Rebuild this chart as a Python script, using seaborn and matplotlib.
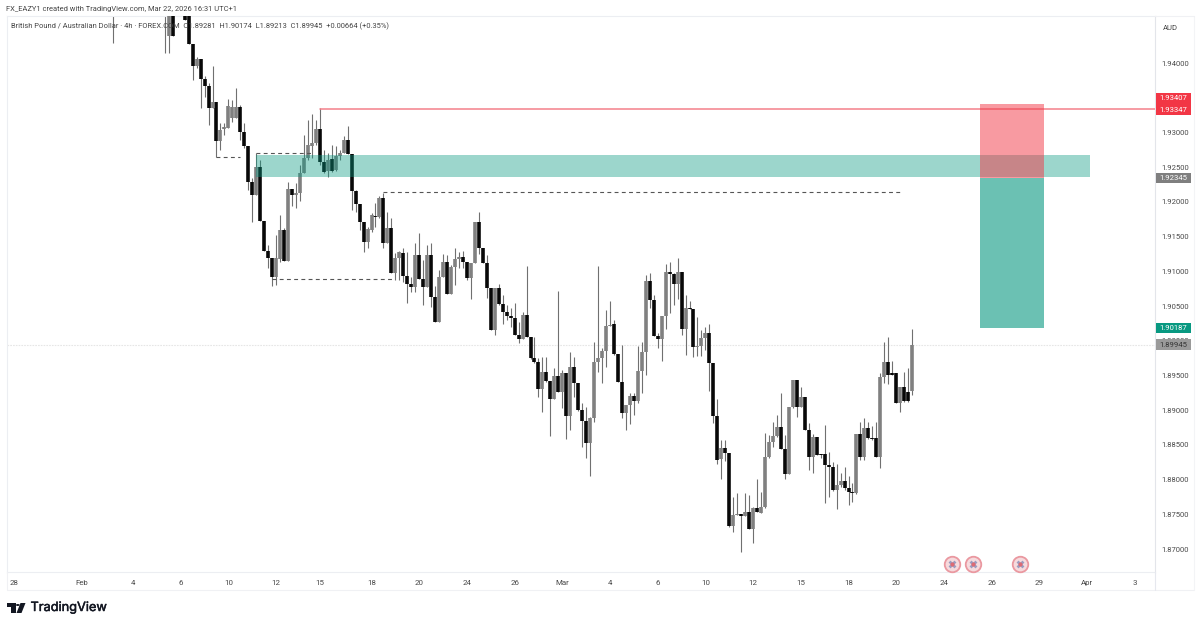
import numpy as np
import pandas as pd
import matplotlib
matplotlib.use('Agg')
import matplotlib.pyplot as plt
import matplotlib.patheffects as pe
from matplotlib.patches import Rectangle, Polygon, Circle
from matplotlib.transforms import blended_transform_factory
import seaborn as sns

nan = float('nan')

# GBP/AUD 4h candles (nan = hidden behind the top edge)
opens = [1.9475] + [nan] * 12 + [1.9475, 1.9439, 1.9470, nan, nan, 1.9468, 1.9470,
    1.9427, 1.9396, 1.9406, 1.9377, 1.9367, 1.9335, 1.9344, 1.9288, 1.9305, 1.9306,
    1.9321, 1.9321, 1.9337, 1.9301, 1.9280, 1.9229, 1.9210, 1.9250, 1.9173, 1.9129,
    1.9119, 1.9092, 1.9118, 1.9159, 1.9115, 1.9218, 1.9210, 1.9213, 1.9242, 1.9263,
    1.9280, 1.9285, 1.9305, 1.9257, 1.9244, 1.9262, 1.9246, 1.9266, 1.9270, 1.9289,
    1.9269, 1.9216, 1.9197, 1.9171, 1.9142, 1.9160, 1.9180, 1.9178, 1.9206, 1.9141,
    1.9162, 1.9097, 1.9119, 1.9126, 1.9093, 1.9082, 1.9077, 1.9123, 1.9089, 1.9077,
    1.9123, 1.9063, 1.9027, 1.9092, 1.9113, 1.9067, 1.9106, 1.9118, 1.9121, 1.9113,
    1.9090, 1.9112, 1.9171, 1.9134, 1.9112, 1.9076, 1.9016, 1.9076, 1.9053, 1.9041,
    1.9036, 1.9033, 1.9008, 1.9003, 1.9037, 1.9005, 1.8975, 1.8969, 1.8930, 1.8955,
    1.8942, 1.8916, 1.8949, 1.8926, 1.8954, 1.8892, 1.8962, 1.8939, 1.8900, 1.8884,
    1.8853, 1.8889, 1.8969, 1.8975, 1.8985, 1.9021, 1.9024, 1.8981, 1.8941, 1.8896,
    1.8907, 1.8920, 1.8913, 1.8956, 1.8984, 1.9086, 1.9059, 1.9007, 1.9003, 1.9036,
    1.9099, 1.9096, 1.9082, 1.9099, 1.9017, 1.9047, 1.9046, 1.8991, 1.8992, 1.9004,
    1.9011, 1.8968, 1.8892, 1.8830, 1.8846, 1.8838, 1.8733, 1.8749, 1.8750, 1.8748,
    1.8753, 1.8729, 1.8759, 1.8752, 1.8760, 1.8833, 1.8854, 1.8863, 1.8876, 1.8844,
    1.8808, 1.8905, 1.8944, 1.8905, 1.8919, 1.8871, 1.8833, 1.8861, 1.8837, 1.8837,
    1.8821, 1.8818, 1.8785, 1.8792, 1.8798, 1.8788, 1.8782, 1.8781, 1.8866, 1.8833,
    1.8874, 1.8860, 1.8860, 1.8833, 1.8948, 1.8969, 1.8954, 1.8954, 1.8910, 1.8933,
    1.8926, 1.89281]

closes = [1.9472] + [nan] * 12 + [1.9478, 1.9470, 1.9439, nan, nan, 1.9462, 1.9427,
    1.9396, 1.9406, 1.9377, 1.9367, 1.9335, 1.9344, 1.9288, 1.9304, 1.9308, 1.9338,
    1.9337, 1.9337, 1.9301, 1.9280, 1.9229, 1.9210, 1.9250, 1.9173, 1.9129, 1.9119,
    1.9092, 1.9119, 1.9159, 1.9115, 1.9218, 1.9210, 1.9213, 1.9242, 1.9263, 1.9282,
    1.9285, 1.9305, 1.9257, 1.9243, 1.9260, 1.9244, 1.9266, 1.9270, 1.9289, 1.9269,
    1.9216, 1.9197, 1.9171, 1.9142, 1.9161, 1.9181, 1.9178, 1.9206, 1.9141, 1.9162,
    1.9097, 1.9119, 1.9128, 1.9093, 1.9082, 1.9077, 1.9123, 1.9089, 1.9077, 1.9123,
    1.9063, 1.9027, 1.9092, 1.9113, 1.9067, 1.9106, 1.9118, 1.9121, 1.9113, 1.9090,
    1.9112, 1.9171, 1.9134, 1.9112, 1.9076, 1.9016, 1.9076, 1.9053, 1.9041, 1.9036,
    1.9033, 1.9008, 1.9003, 1.9037, 1.9005, 1.8975, 1.8969, 1.8930, 1.8955, 1.8942,
    1.8916, 1.8949, 1.8926, 1.8954, 1.8892, 1.8962, 1.8939, 1.8900, 1.8884, 1.8853,
    1.8889, 1.8969, 1.8975, 1.8985, 1.9021, 1.9023, 1.8981, 1.8941, 1.8896, 1.8907,
    1.8920, 1.8913, 1.8956, 1.8984, 1.9086, 1.9059, 1.9007, 1.9003, 1.9036, 1.9099,
    1.9096, 1.9082, 1.9099, 1.9017, 1.9047, 1.9046, 1.8991, 1.8992, 1.9004, 1.9011,
    1.8968, 1.8892, 1.8828, 1.8846, 1.8838, 1.8733, 1.8749, 1.8750, 1.8748, 1.8753,
    1.8729, 1.8759, 1.8753, 1.8760, 1.8833, 1.8854, 1.8863, 1.8876, 1.8844, 1.8808,
    1.8905, 1.8944, 1.8905, 1.8919, 1.8871, 1.8833, 1.8861, 1.8835, 1.8835, 1.8821,
    1.8818, 1.8785, 1.8792, 1.8798, 1.8788, 1.8782, 1.8781, 1.8866, 1.8833, 1.8874,
    1.8860, 1.8859, 1.8833, 1.8948, 1.8969, 1.8951, 1.8951, 1.8910, 1.8933, 1.8913,
    1.8913, 1.89945]

highs = [1.9480] + [nan] * 12 + [1.9480, 1.9480, 1.9480, nan, nan, 1.9470, 1.9475,
    1.9427, 1.9409, 1.9406, 1.9381, 1.9371, 1.9396, 1.9344, 1.9314, 1.9314, 1.9348,
    1.9347, 1.9364, 1.9339, 1.9314, 1.9280, 1.9234, 1.9270, 1.9260, 1.9173, 1.9138,
    1.9119, 1.9152, 1.9181, 1.9162, 1.9229, 1.9218, 1.9227, 1.9253, 1.9296, 1.9318,
    1.9327, 1.9318, 1.9335, 1.9275, 1.9270, 1.9282, 1.9280, 1.9275, 1.9295, 1.9309,
    1.9269, 1.9217, 1.9197, 1.9171, 1.9164, 1.9184, 1.9198, 1.9208, 1.9213, 1.9185,
    1.9177, 1.9126, 1.9129, 1.9134, 1.9128, 1.9092, 1.9141, 1.9155, 1.9116, 1.9138,
    1.9141, 1.9079, 1.9102, 1.9125, 1.9123, 1.9109, 1.9134, 1.9128, 1.9129, 1.9113,
    1.9112, 1.9171, 1.9185, 1.9134, 1.9123, 1.9076, 1.9076, 1.9082, 1.9066, 1.9051,
    1.9047, 1.9054, 1.9027, 1.9041, 1.9108, 1.9005, 1.9005, 1.8975, 1.8977, 1.8977,
    1.8942, 1.8961, 1.9072, 1.8958, 1.8954, 1.8984, 1.8977, 1.8939, 1.8910, 1.8905,
    1.8890, 1.8998, 1.9108, 1.8990, 1.9044, 1.9057, 1.9030, 1.8981, 1.8994, 1.8907,
    1.8925, 1.8925, 1.8992, 1.8998, 1.9095, 1.9098, 1.9066, 1.9011, 1.9036, 1.9110,
    1.9113, 1.9098, 1.9119, 1.9099, 1.9066, 1.9057, 1.9046, 1.9034, 1.9015, 1.9020,
    1.9024, 1.8968, 1.8916, 1.8857, 1.8857, 1.8838, 1.8775, 1.8781, 1.8750, 1.8781,
    1.8778, 1.8760, 1.8801, 1.8782, 1.8867, 1.8864, 1.8883, 1.8893, 1.8925, 1.8864,
    1.8905, 1.8944, 1.8944, 1.8933, 1.8919, 1.8882, 1.8866, 1.8861, 1.8837, 1.8879,
    1.8840, 1.8825, 1.8822, 1.8809, 1.8818, 1.8805, 1.8795, 1.8866, 1.8883, 1.8889,
    1.8883, 1.8877, 1.8883, 1.8954, 1.8998, 1.9005, 1.8971, 1.8954, 1.8933, 1.8955,
    1.8961, 1.90174]

lows = [1.9429] + [nan] * 12 + [1.9414, 1.9414, 1.9439, nan, nan, 1.9462, 1.9427,
    1.9375, 1.9393, 1.9335, 1.9351, 1.9311, 1.9335, 1.9265, 1.9275, 1.9296, 1.9306,
    1.9315, 1.9321, 1.9289, 1.9278, 1.9217, 1.9171, 1.9210, 1.9173, 1.9129, 1.9105,
    1.9079, 1.9080, 1.9113, 1.9115, 1.9115, 1.9194, 1.9191, 1.9201, 1.9242, 1.9260,
    1.9263, 1.9282, 1.9253, 1.9242, 1.9236, 1.9243, 1.9244, 1.9260, 1.9270, 1.9269,
    1.9188, 1.9185, 1.9160, 1.9128, 1.9134, 1.9157, 1.9164, 1.9177, 1.9134, 1.9141,
    1.9097, 1.9087, 1.9087, 1.9085, 1.9054, 1.9070, 1.9070, 1.9089, 1.9051, 1.9077,
    1.9049, 1.9027, 1.9027, 1.9092, 1.9067, 1.9067, 1.9080, 1.9105, 1.9105, 1.9087,
    1.9060, 1.9112, 1.9125, 1.9112, 1.9062, 1.9016, 1.9008, 1.9051, 1.9024, 1.9030,
    1.9020, 1.9008, 1.8997, 1.9003, 1.9005, 1.8974, 1.8968, 1.8919, 1.8897, 1.8941,
    1.8863, 1.8916, 1.8926, 1.8903, 1.8859, 1.8871, 1.8919, 1.8899, 1.8847, 1.8831,
    1.8805, 1.8883, 1.8955, 1.8939, 1.8962, 1.9021, 1.8979, 1.8941, 1.8889, 1.8871,
    1.8880, 1.8893, 1.8910, 1.8925, 1.8951, 1.9047, 1.9007, 1.8990, 1.8971, 1.9017,
    1.9040, 1.9051, 1.9060, 1.9008, 1.8979, 1.9046, 1.8977, 1.8978, 1.8978, 1.8987,
    1.8928, 1.8882, 1.8822, 1.8801, 1.8827, 1.8732, 1.8725, 1.8749, 1.8696, 1.8748,
    1.8729, 1.8709, 1.8753, 1.8752, 1.8759, 1.8831, 1.8847, 1.8861, 1.8844, 1.8801,
    1.8808, 1.8903, 1.8890, 1.8905, 1.8871, 1.8814, 1.8810, 1.8835, 1.8831, 1.8766,
    1.8775, 1.8784, 1.8758, 1.8789, 1.8785, 1.8763, 1.8768, 1.8779, 1.8828, 1.8828,
    1.8859, 1.8857, 1.8833, 1.8817, 1.8939, 1.8938, 1.8951, 1.8910, 1.8897, 1.8912,
    1.8912, 1.89213]

# axis labels
date_pos = [-25, -8, 5, 17, 29, 41, 52, 65, 77, 89, 101, 113, 125, 137, 149, 161, 173, 185, 197, 209, 221, 233, 245, 257]
date_labels = ['28', 'Feb', '4', '6', '10', '12', '15', '18', '20', '24', '26', 'Mar', '4', '6', '10', '12', '15', '18', '20', '24', '26', '29', 'Apr', '3']
price_ticks = [1.87, 1.875, 1.88, 1.885, 1.89, 1.895, 1.90, 1.905, 1.91, 1.915, 1.92, 1.925, 1.93, 1.94]

# drawings
zone_price = [1.92358, 1.92675]
zone_bars = [36, 245.8]
position_bars = [218.1, 234.2]
stop_price = 1.93407
entry_price = 1.92345
target_price = 1.90187
last_price = 1.89945
high_line_price = 1.93335
high_line_bar = 52
dashed_prices = [1.92646, 1.92697, 1.90885, 1.92142]
dashed_starts = [26, 36, 40, 68]
dashed_ends = [32, 50, 70.5, 198.5]
event_bars = [211, 216.2, 228.2]
event_price = 1.86784

df = pd.DataFrame({'bar': np.arange(len(opens)), 'open': opens, 'high': highs, 'low': lows, 'close': closes}).dropna()
df['dir'] = np.where(df['close'] > df['open'], 'up', 'down')

wicks = df.melt(id_vars=['bar'], value_vars=['high', 'low'], value_name='price')
bodies = df.melt(id_vars=['bar', 'dir'], value_vars=['open', 'close'], value_name='price')

sns.set_theme(style='white')
plt.rcParams['font.family'] = ['Roboto', 'DejaVu Sans']

W, H = 1200, 627
TXT = 5.5
fig = plt.figure(figsize=(12, 6.27), dpi=100, facecolor='white')
ax = fig.add_axes([7 / W, 1 - 572 / H, 1148 / W, 556 / H])

sns.lineplot(data=wicks, x='bar', y='price', units='bar', estimator=None, sort=False,
             color='#707070', linewidth=0.8, legend=False, ax=ax, zorder=2,
             solid_capstyle='butt')
sns.lineplot(data=bodies, x='bar', y='price', units='bar', hue='dir', estimator=None, sort=False,
             palette={'up': '#808080', 'down': '#080808'}, linewidth=2.6, legend=False, ax=ax, zorder=3,
             solid_capstyle='butt')

ax.set_xlim(-26.7, 262.1)
ax.set_ylim(1.86669, 1.94677)
ax.set_xlabel('')
ax.set_ylabel('')

# last price line, dashed swing lines
ax.axhline(last_price, color='#e6e6e6', lw=0.8, dashes=(1.5, 1), zorder=1)
for p, a, b in zip(dashed_prices, dashed_starts, dashed_ends):
    ax.plot([a, b], [p, p], color='#555555', lw=0.8, dashes=(3.5, 3), zorder=4)
ax.plot([high_line_bar, ax.get_xlim()[1]], [high_line_price] * 2, color='#f4808a', lw=1.1, zorder=4)

# demand/supply box and the short position
ax.add_patch(Rectangle((zone_bars[0], zone_price[0]), zone_bars[1] - zone_bars[0], zone_price[1] - zone_price[0],
                       color='#089981', alpha=0.4, lw=0, zorder=5))
pw = position_bars[1] - position_bars[0]
ax.add_patch(Rectangle((position_bars[0], entry_price), pw, stop_price - entry_price,
                       color='#f23645', alpha=0.5, lw=0, zorder=6))
ax.add_patch(Rectangle((position_bars[0], target_price), pw, entry_price - target_price,
                       color='#089981', alpha=0.6, lw=0, zorder=6))

# calendar icons
sns.scatterplot(x=event_bars, y=[event_price] * 3, s=125, color='#f6dadd', edgecolor='#ea98a0', linewidth=1.3, ax=ax, zorder=7, legend=False, clip_on=False)
sns.scatterplot(x=event_bars, y=[event_price] * 3, s=32, marker='X', color='#9a9dc0', linewidth=0, ax=ax, zorder=8, legend=False)
sns.scatterplot(x=event_bars, y=[event_price] * 3, s=9, color='#dd6a74', linewidth=0, ax=ax, zorder=9, legend=False)

# axes look
for side in ['top', 'left', 'bottom', 'right']:
    ax.spines[side].set_color('#eceef2')
    ax.spines[side].set_linewidth(0.8)
ax.spines['right'].set_color('#e3e5ea')
ax.yaxis.tick_right()
ax.set_yticks(price_ticks)
ax.set_yticklabels(['%.5f' % t for t in price_ticks], fontsize=TXT, color='#4a4a4a')
ax.set_xticks(date_pos)
ax.set_xticklabels(date_labels, fontsize=TXT + 0.2, color='#4a4a4a')
ax.tick_params(axis='y', length=0, pad=4.5)
ax.tick_params(axis='x', length=0, pad=6)

# price labels on the scale
tr = blended_transform_factory(ax.transAxes, ax.transData)
box_x = 1.0006
box_w = 35 / 1148
label_cx = 1 + 18 / 1148
box_tops = [1.93568, 1.92417, 1.90259, 1.90024]
box_bottoms = [1.93251, 1.92273, 1.90108, 1.89866]
box_colors = ['#f23645', '#7f7f7f', '#089981', '#9a9a9a']
for y1, y0, c in zip(box_tops, box_bottoms, box_colors):
    ax.add_patch(Rectangle((box_x, y0), box_w, y1 - y0, transform=tr, color=c, lw=0, clip_on=False, zorder=10))
label_prices = [1.93489, 1.93330, 1.92345, 1.90187]
label_texts = ['1.93407', '1.93347', '1.92345', '1.90187']
for p, t in zip(label_prices, label_texts):
    ax.text(label_cx, p, t, transform=tr, color='white', fontsize=TXT, ha='center', va='center', zorder=11)
ax.text(label_cx, 1.89945, '1.89945', transform=tr, color='#333333', fontsize=TXT, ha='center', va='center', zorder=11)

# frame of the scale and the date strip
fig.add_artist(plt.Line2D([7 / W, 1194 / W], [1 - 590 / H] * 2, color='#f0f1f4', lw=0.8))
fig.add_artist(plt.Line2D([1194 / W] * 2, [1 - 16 / H, 1 - 590 / H], color='#f3f4f6', lw=0.8))
fig.add_artist(plt.Line2D([7 / W] * 2, [1 - 572 / H, 1 - 590 / H], color='#f0f1f4', lw=0.8))
fig.add_artist(plt.Line2D([1155 / W] * 2, [1 - 572 / H, 1 - 590 / H], color='#e6e8ee', lw=0.8))
fig.add_artist(plt.Line2D([1155 / W, 1194 / W], [1 - 16 / H] * 2, color='#f0f1f4', lw=0.8))

# header texts
fig.text(6 / W, 1 - 9 / H, 'FX_EAZY1 created with TradingView.com, Mar 22, 2026 16:31 UTC+1',
         fontsize=5.45, color='#444444', ha='left', va='center')
fig.text(11 / W, 1 - 26 / H,
         'British Pound / Australian Dollar · 4h · FOREX.COM  O1.89281  H1.90174  L1.89213  C1.89945  +0.00664 (+0.35%)',
         fontsize=5.45, color='#444444', ha='left', va='center', zorder=20)
fig.text(1170 / W, 1 - 28 / H, 'AUD', fontsize=TXT, color='#444444', ha='center', va='center')

# TradingView logo
def fpx(pts):
    return [(x / W, 1 - y / H) for x, y in pts]
logo = '#131722'
fig.add_artist(Polygon(fpx([(7, 603), (15.5, 603), (15.5, 613), (11, 613), (11, 607), (7, 607)]), color=logo, lw=0, transform=fig.transFigure))
fig.add_artist(Circle((17.8 / W, 1 - 605 / H), 1.9 / W, color=logo, lw=0, transform=fig.transFigure))
fig.add_artist(Polygon(fpx([(20.5, 603), (25.5, 603), (21.5, 613), (16.5, 613)]), color=logo, lw=0, transform=fig.transFigure))
fig.text(30.5 / W, 1 - 608 / H, 'TradingView', fontsize=9.2, fontfamily=['Inter', 'DejaVu Sans'],
         color=logo, ha='left', va='center',
         path_effects=[pe.withStroke(linewidth=0.35, foreground=logo)])

fig.savefig('out.png', dpi=100, facecolor='white')
